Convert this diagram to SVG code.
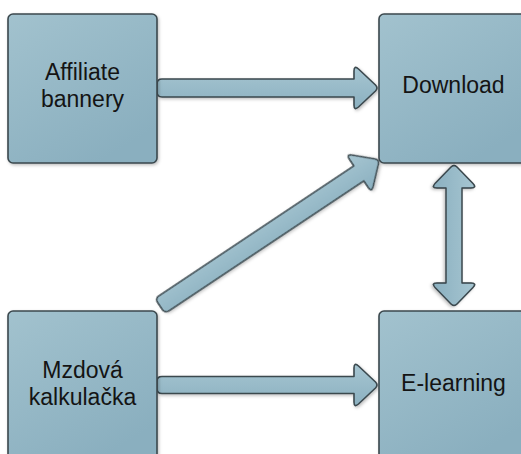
<svg xmlns="http://www.w3.org/2000/svg" width="521" height="454" viewBox="0 0 521 454">
  <style>
    .box { fill: url(#boxFill); stroke: #3b484e; stroke-width: 1.6; filter: url(#shadow); }
    .arrow { fill: url(#arrowFill); stroke: #3b484e; stroke-width: 1.6; stroke-linejoin: round; filter: url(#shadow); }
    .label { font-family: "Liberation Sans", Arial, sans-serif; font-size: 23px; fill: #141414; text-anchor: middle; }
  </style>
  <defs>
    <linearGradient id="boxFill" x1="0" y1="0" x2="0.6" y2="1">
      <stop offset="0" stop-color="#a2c2ce"/>
      <stop offset="1" stop-color="#8aafbf"/>
    </linearGradient>
    <linearGradient id="arrowFill" x1="0" y1="0" x2="0" y2="1">
      <stop offset="0" stop-color="#a6c5d1"/>
      <stop offset="1" stop-color="#8bb0c0"/>
    </linearGradient>
    <filter id="shadow" x="-10%" y="-10%" width="130%" height="130%">
      <feDropShadow dx="1.2" dy="1.5" stdDeviation="1.4" flood-color="#000" flood-opacity="0.25"/>
    </filter>
  </defs>

  <!-- connectors -->
  <g id="connectors">
    <!-- Affiliate banner -> Download -->
    <path class="arrow" transform="translate(157,88)" d="M 5,-9 H 197 V -17 Q 197,-23 201.5,-19 L 218.5,-3 Q 221.5,0 218.5,3 L 201.5,19 Q 197,23 197,17 V 9 H 5 Q 0,9 0,4 V -4 Q 0,-9 5,-9 Z"/>
    <!-- Mzdova kalkulacka -> E-learning -->
    <path class="arrow" transform="translate(157,385)" d="M 5,-8.5 H 197 V -17 Q 197,-23 201.5,-19 L 218.5,-3 Q 221.5,0 218.5,3 L 201.5,19 Q 197,23 197,17 V 8.5 H 5 Q 0,8.5 0,4 V -4 Q 0,-8.5 5,-8.5 Z"/>
    <!-- Mzdova kalkulacka -> Download (diagonal) -->
    <path class="arrow" transform="translate(160,306) rotate(-33.7)" d="M 5,-9 H 239 V -17 Q 239,-23 243.5,-19 L 260.5,-3 Q 263.5,0 260.5,3 L 243.5,19 Q 239,23 239,17 V 9 H 5 Q 0,9 0,4 V -4 Q 0,-9 5,-9 Z"/>
    <!-- Download <-> E-learning -->
    <path class="arrow" transform="translate(454,164) rotate(90)" d="M 3,-3 L 19.5,-19 Q 24,-23 24,-17 V -8 H 119 V -17 Q 119,-23 123.5,-19 L 140,-3 Q 143,0 140,3 L 123.5,19 Q 119,23 119,17 V 8 H 24 V 17 Q 24,23 19.5,19 L 3,3 Q 0,0 3,-3 Z"/>
  </g>

  <!-- nodes -->
  <g id="affiliate-banner">
    <rect class="box" x="8" y="14" width="149" height="149" rx="5"/>
    <text class="label" x="82.5" y="80">Affiliate</text>
    <text class="label" x="82.5" y="107">bannery</text>
  </g>
  <g id="download">
    <rect class="box" x="379" y="14" width="149" height="149" rx="5"/>
    <text class="label" x="453.5" y="93">Download</text>
  </g>
  <g id="mzdova-kalkulacka">
    <rect class="box" x="8" y="311" width="149" height="149" rx="5"/>
    <text class="label" x="82.5" y="378">Mzdová</text>
    <text class="label" x="82.5" y="405">kalkulačka</text>
  </g>
  <g id="e-learning">
    <rect class="box" x="379" y="311" width="149" height="149" rx="5"/>
    <text class="label" x="453.5" y="391">E-learning</text>
  </g>
</svg>
